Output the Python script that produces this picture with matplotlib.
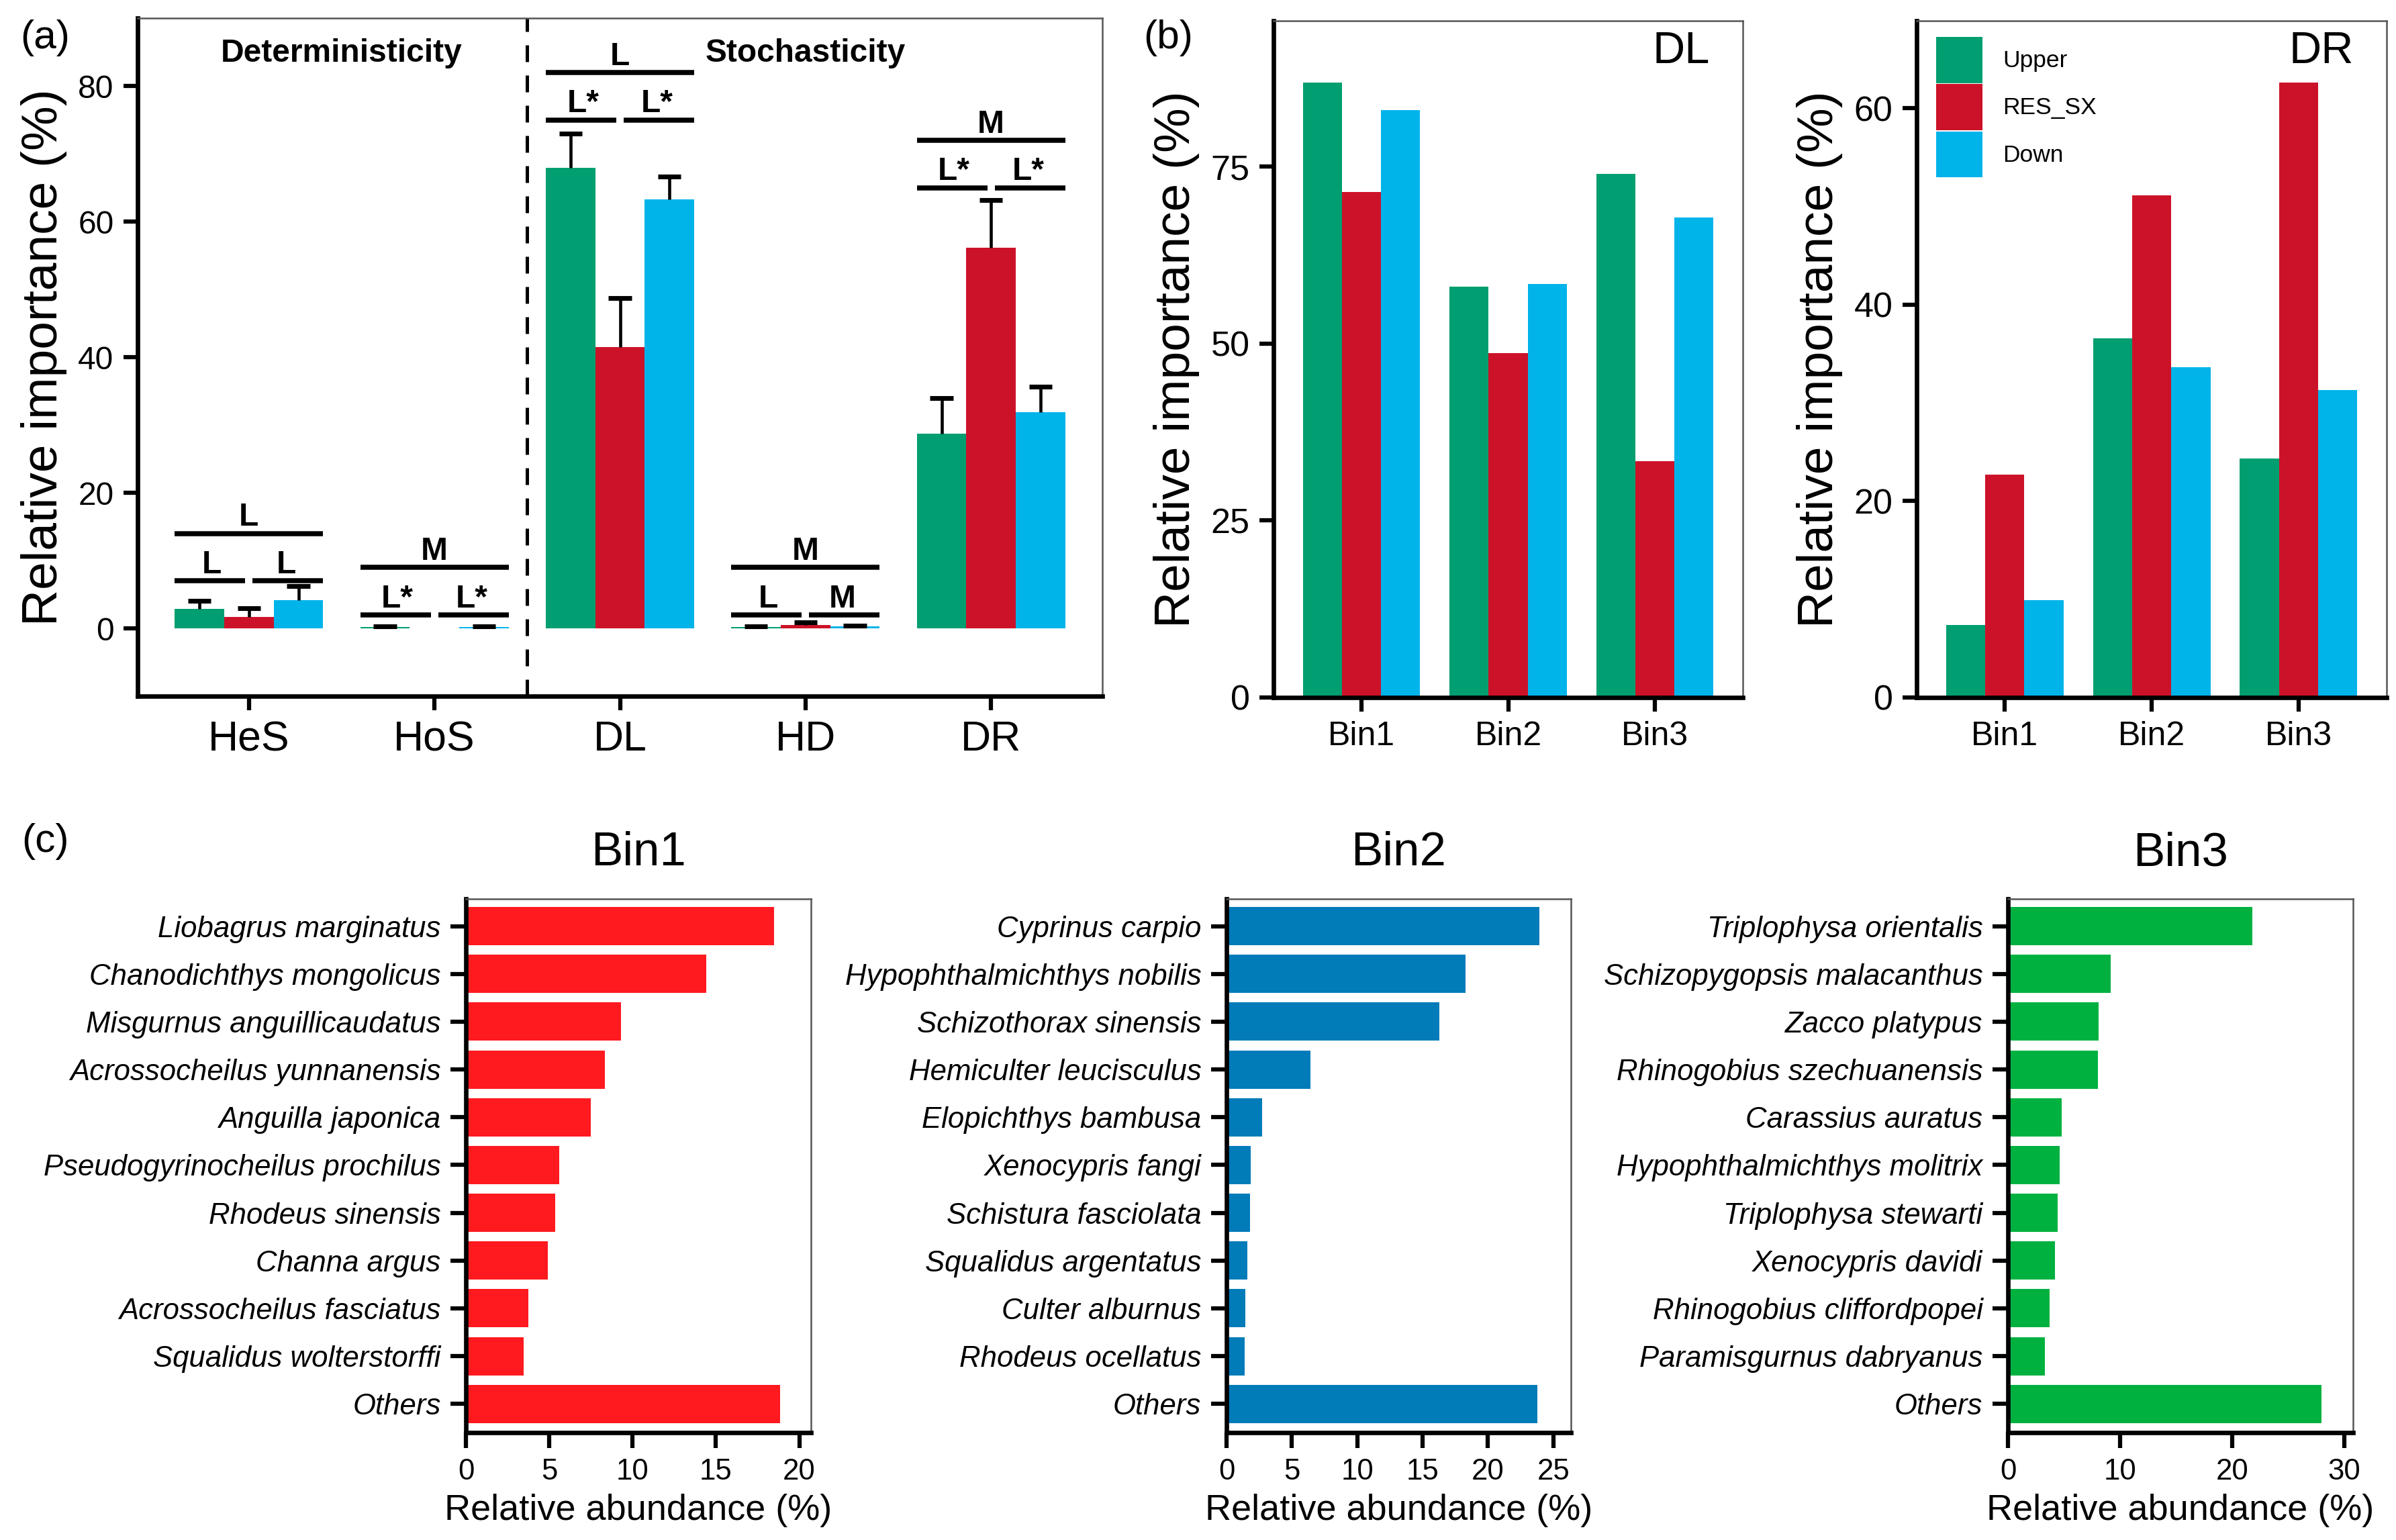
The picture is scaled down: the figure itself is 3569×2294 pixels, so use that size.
import numpy as np
import matplotlib
matplotlib.use("Agg")
import matplotlib.pyplot as plt
from matplotlib.patches import Patch

plt.rcParams['font.family'] = ['Liberation Sans', 'DejaVu Sans']

# ---- colours
c_up, c_res, c_down = '#009E70', '#CC1229', '#00B4EA'

# ---- panel (a)
cats_a = ['HeS', 'HoS', 'DL', 'HD', 'DR']
upper_mean = [2.9, 0.2, 67.9, 0.2, 28.7]
upper_se = [1.2, 0.1, 5.1, 0.1, 5.3]
res_mean = [1.7, 0.0, 41.5, 0.5, 56.1]
res_se = [1.3, 0.0, 7.2, 0.4, 7.1]
down_mean = [4.2, 0.2, 63.3, 0.3, 31.9]
down_se = [2.0, 0.1, 3.3, 0.1, 3.7]

sig_top = ['L', 'M', 'L', 'M', 'M']
sig_left = ['L', 'L*', 'L*', 'L', 'L*']
sig_right = ['L', 'L*', 'L*', 'M', 'L*']
sig_level = [7.0, 2.0, 75.0, 2.0, 65.0]

# ---- panel (b)
bins = ['Bin1', 'Bin2', 'Bin3']
dl_upper = [86.9, 58.0, 74.0]
dl_res = [71.4, 48.7, 33.4]
dl_down = [83.0, 58.4, 67.8]
dr_upper = [7.4, 36.6, 24.3]
dr_res = [22.7, 51.1, 62.6]
dr_down = [9.9, 33.6, 31.3]
groups = ['Upper', 'RES_SX', 'Down']

# ---- panel (c)
bin1_sp = ['Liobagrus marginatus', 'Chanodichthys mongolicus', 'Misgurnus anguillicaudatus',
           'Acrossocheilus yunnanensis', 'Anguilla japonica', 'Pseudogyrinocheilus prochilus',
           'Rhodeus sinensis', 'Channa argus', 'Acrossocheilus fasciatus',
           'Squalidus wolterstorffi', 'Others']
bin1_ab = [18.5, 14.4, 9.3, 8.35, 7.5, 5.6, 5.35, 4.9, 3.75, 3.45, 18.85]
bin2_sp = ['Cyprinus carpio', 'Hypophthalmichthys nobilis', 'Schizothorax sinensis',
           'Hemiculter leucisculus', 'Elopichthys bambusa', 'Xenocypris fangi',
           'Schistura fasciolata', 'Squalidus argentatus', 'Culter alburnus',
           'Rhodeus ocellatus', 'Others']
bin2_ab = [23.95, 18.3, 16.3, 6.4, 2.7, 1.85, 1.8, 1.6, 1.45, 1.4, 23.8]
bin3_sp = ['Triplophysa orientalis', 'Schizopygopsis malacanthus', 'Zacco platypus',
           'Rhinogobius szechuanensis', 'Carassius auratus', 'Hypophthalmichthys molitrix',
           'Triplophysa stewarti', 'Xenocypris davidi', 'Rhinogobius cliffordpopei',
           'Paramisgurnus dabryanus', 'Others']
bin3_ab = [21.8, 9.15, 8.1, 8.05, 4.8, 4.6, 4.45, 4.2, 3.7, 3.3, 28.0]

W, H = 3569, 2294
fig = plt.figure(figsize=(W / 300, H / 300), dpi=300)


def box(l, r, t, b):
    return [l / W, 1 - b / H, (r - l) / W, (b - t) / H]


def style_axes(ax, tick_len=5):
    for s in ['left', 'bottom']:
        ax.spines[s].set_linewidth(1.6)
        ax.spines[s].set_color('black')
    for s in ['top', 'right']:
        ax.spines[s].set_linewidth(0.6)
        ax.spines[s].set_color('#555555')
    ax.tick_params(direction='out', length=tick_len, width=1.5, colors='black')


# ================= (a)
ax = fig.add_axes(box(205, 1642, 27, 1037))
x = np.arange(len(cats_a))
bw = 0.8 / 3
for k, (m, se, col) in enumerate([(upper_mean, upper_se, c_up),
                                  (res_mean, res_se, c_res),
                                  (down_mean, down_se, c_down)]):
    xs = x + (k - 1) * bw
    ax.bar(xs, m, width=bw, color=col, zorder=2)
    for xi, mi, si in zip(xs, m, se):
        if si > 0:
            ax.vlines(xi, mi, mi + si, color='black', lw=1.1, zorder=3)
            ax.hlines(mi + si, xi - 0.062, xi + 0.062, color='black', lw=1.7, zorder=3)

for xi, t, l, r, lev in zip(x, sig_top, sig_left, sig_right, sig_level):
    ax.hlines(lev, xi - 0.4, xi - 0.02, color='black', lw=1.8)
    ax.hlines(lev, xi + 0.02, xi + 0.4, color='black', lw=1.8)
    ax.hlines(lev + 7, xi - 0.4, xi + 0.4, color='black', lw=1.8)
    ax.text(xi - 0.2, lev + 1.1, l, ha='center', va='baseline', fontsize=11.5, fontweight='bold')
    ax.text(xi + 0.2, lev + 1.1, r, ha='center', va='baseline', fontsize=11.5, fontweight='bold')
    ax.text(xi, lev + 8.1, t, ha='center', va='baseline', fontsize=11.5, fontweight='bold')

ax.axvline(1.5, color='black', lw=1.2, ls=(0, (5, 4)))
ax.text(0.5, 84.8, 'Deterministicity', ha='center', va='center', fontsize=11.5, fontweight='bold')
ax.text(3.0, 84.8, 'Stochasticity', ha='center', va='center', fontsize=11.5, fontweight='bold')
ax.set_xlim(-0.6, 4.6)
ax.set_ylim(-10, 90)
ax.set_yticks([0, 20, 40, 60, 80])
ax.set_xticks(x)
ax.set_xticklabels(cats_a, fontsize=15)
ax.tick_params(axis='y', labelsize=11.5)
ax.set_ylabel('Relative importance (%)', fontsize=18, labelpad=4)
style_axes(ax)
fig.text(30 / W, 1 - 29 / H, '(a)', fontsize=14.5, ha='left', va='top')


# ================= (b)
def grouped(ax, u, r, d, ylim, yticks, tag):
    xb = np.arange(len(bins))
    for k, (vals, col) in enumerate([(u, c_up), (r, c_res), (d, c_down)]):
        ax.bar(xb + (k - 1) * bw, vals, width=bw, color=col, label=groups[k])
    ax.set_xlim(-0.6, 2.6)
    ax.set_ylim(*ylim)
    ax.set_yticks(yticks)
    ax.set_xticks(xb)
    ax.set_xticklabels(bins, fontsize=12)
    ax.tick_params(axis='y', labelsize=12.5)
    ax.set_ylabel('Relative importance (%)', fontsize=18, labelpad=4)
    ax.text(0.93, 0.954, tag, transform=ax.transAxes, ha='right', va='center', fontsize=16)
    style_axes(ax)


ax_dl = fig.add_axes(box(1897, 2596, 31, 1039))
grouped(ax_dl, dl_upper, dl_res, dl_down, (0, 95.6), [0, 25, 50, 75], 'DL')
ax_dr = fig.add_axes(box(2855, 3555, 31, 1039))
grouped(ax_dr, dr_upper, dr_res, dr_down, (0, 68.9), [0, 20, 40, 60], 'DR')
handles = [Patch(facecolor=c, label=g) for c, g in zip([c_up, c_res, c_down], groups)]
ax_dr.legend(handles=handles, loc='upper left', bbox_to_anchor=(0.041, 0.976),
             frameon=False, fontsize=8.5, handlelength=1.95, handleheight=2.6,
             labelspacing=0.05, handletextpad=0.85, borderpad=0, borderaxespad=0)
fig.text(1703 / W, 1 - 29 / H, '(b)', fontsize=14.5, ha='left', va='top')


# ================= (c)
def hbars(ax, names, vals, col, xmax, xticks, title):
    yy = np.arange(len(names))
    ax.barh(yy, vals, height=0.8, color=col)
    ax.set_yticks(yy)
    ax.set_yticklabels(names, fontsize=10.5, fontstyle='italic')
    ax.set_ylim(len(names) - 0.4, -0.57)
    ax.set_xlim(0, xmax)
    ax.set_xticks(xticks)
    ax.tick_params(axis='x', labelsize=10.5)
    ax.set_xlabel('Relative abundance (%)', fontsize=13, labelpad=3)
    ax.set_title(title, fontsize=17, pad=12)
    style_axes(ax, tick_len=5.5)


ax1 = fig.add_axes(box(694, 1208, 1339, 2134))
hbars(ax1, bin1_sp, bin1_ab, '#FF1A1F', 20.7, [0, 5, 10, 15, 20], 'Bin1')
ax2 = fig.add_axes(box(1827, 2340, 1339, 2134))
hbars(ax2, bin2_sp, bin2_ab, '#027BB9', 26.35, [0, 5, 10, 15, 20, 25], 'Bin2')
ax3 = fig.add_axes(box(2991, 3505, 1339, 2134))
hbars(ax3, bin3_sp, bin3_ab, '#00B140', 30.8, [0, 10, 20, 30], 'Bin3')
fig.text(32 / W, 1 - 1226 / H, '(c)', fontsize=14.5, ha='left', va='top')

fig.savefig('out.png', dpi=300)
